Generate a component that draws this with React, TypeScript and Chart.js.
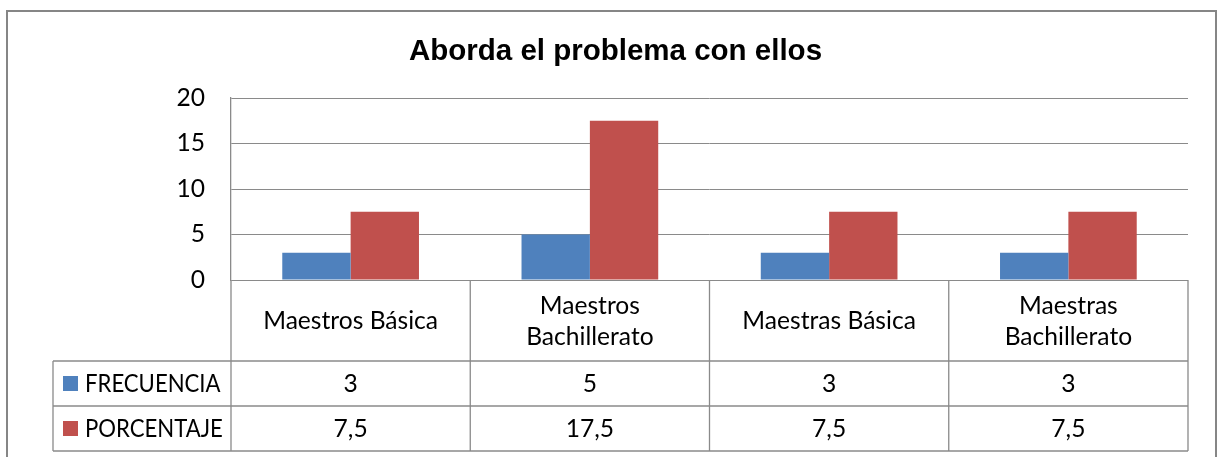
import React, { useEffect, useRef } from 'react';
import { Chart, registerables } from 'chart.js';

Chart.register(...registerables);

const TITLE = 'Aborda el problema con ellos';
const categories = ['Maestros Básica', 'Maestros Bachillerato', 'Maestras Básica', 'Maestras Bachillerato'];
const seriesNames = ['FRECUENCIA', 'PORCENTAJE'];
const frecuencia = [3, 5, 3, 3];
const porcentaje = [7.5, 17.5, 7.5, 7.5];
const seriesColors = ['#4F81BD', '#C0504D'];
const yMin = 0;
const yMax = 20;
const yStep = 5;

const W = 1219;
const H = 457;
const LINE = '#8a8a8a';
const BODY_FONT = '24.6px Lato';
const HEADER_H = 81;
const ROW_H = 45;
const LEGEND_LEFT = 53;
const PAD_LEFT = 43;

const fmt = (v: number) => String(v).replace('.', ',');

function wrapText(ctx: CanvasRenderingContext2D, text: string, maxW: number): string[] {
  const words = text.split(' ');
  const lines: string[] = [];
  let cur = '';
  for (const w of words) {
    const t = cur ? cur + ' ' + w : w;
    if (cur && ctx.measureText(t).width > maxW) {
      lines.push(cur);
      cur = w;
    } else {
      cur = t;
    }
  }
  if (cur) lines.push(cur);
  return lines;
}

const framePlugin = {
  id: 'frame',
  afterDraw(chart: any) {
    const ctx: CanvasRenderingContext2D = chart.ctx;
    ctx.save();
    ctx.strokeStyle = '#868686';
    ctx.lineWidth = 2;
    ctx.beginPath();
    ctx.moveTo(7, H + 5);
    ctx.lineTo(7, 11);
    ctx.lineTo(1216, 11);
    ctx.lineTo(1216, H + 5);
    ctx.stroke();
    ctx.restore();
  },
};

const tablePlugin = {
  id: 'dataTable',
  afterDraw(chart: any) {
    const ctx: CanvasRenderingContext2D = chart.ctx;
    const ca = chart.chartArea;
    const xs = chart.scales.x;
    const n = chart.data.labels.length;
    const cw = (ca.right - ca.left) / n;
    const headerBottom = ca.bottom + HEADER_H;
    const datasets = chart.data.datasets;
    const tableBottom = headerBottom + ROW_H * datasets.length;

    ctx.save();
    ctx.strokeStyle = LINE;
    ctx.lineWidth = 1.3;
    ctx.beginPath();
    for (let r = 0; r <= datasets.length; r++) {
      const y = headerBottom + r * ROW_H;
      ctx.moveTo(LEGEND_LEFT, y);
      ctx.lineTo(ca.right, y);
    }
    for (let i = 0; i <= n; i++) {
      const x = ca.left + i * cw;
      ctx.moveTo(x, ca.bottom);
      ctx.lineTo(x, tableBottom);
    }
    ctx.moveTo(LEGEND_LEFT, headerBottom);
    ctx.lineTo(LEGEND_LEFT, tableBottom);
    ctx.stroke();

    ctx.fillStyle = '#000';
    ctx.font = BODY_FONT;
    ctx.textAlign = 'center';
    ctx.textBaseline = 'middle';
    const lh = 31;
    chart.data.labels.forEach((label: string, i: number) => {
      const cx = xs.getPixelForValue(i);
      const lines = wrapText(ctx, label, cw - 20);
      const cy = ca.bottom + HEADER_H / 2;
      const start = cy - ((lines.length - 1) * lh) / 2;
      lines.forEach((ln, k) => ctx.fillText(ln, cx, start + k * lh + 1));
    });

    datasets.forEach((ds: any, r: number) => {
      const cy = headerBottom + r * ROW_H + ROW_H / 2;
      ctx.fillStyle = ds.backgroundColor;
      ctx.fillRect(63, cy - 7.5, 15, 15);
      ctx.fillStyle = '#000';
      ctx.textAlign = 'left';
      ctx.save();
      ctx.translate(85, cy + 1);
      ctx.scale(0.9, 1);
      ctx.fillText(ds.label, 0, 0);
      ctx.restore();
      ctx.textAlign = 'center';
      ds.data.forEach((v: number, i: number) => {
        ctx.fillText(fmt(v), xs.getPixelForValue(i), cy + 1);
      });
    });
    ctx.restore();
  },
};

export default function App() {
  const ref = useRef<HTMLCanvasElement>(null);

  useEffect(() => {
    if (!ref.current) return;
    const chart = new Chart(ref.current, {
      type: 'bar',
      data: {
        labels: categories,
        datasets: [
          { label: seriesNames[0], data: frecuencia, backgroundColor: seriesColors[0], borderWidth: 0 },
          { label: seriesNames[1], data: porcentaje, backgroundColor: seriesColors[1], borderWidth: 0 },
        ],
      },
      options: {
        animation: false,
        responsive: false,
        devicePixelRatio: 1,
        layout: { padding: { left: PAD_LEFT, right: 31, top: 0, bottom: 177 } },
        datasets: { bar: { categoryPercentage: 0.5714, barPercentage: 1 } },
        plugins: {
          legend: { display: false },
          tooltip: { enabled: false },
          title: {
            display: true,
            text: TITLE,
            color: '#000',
            font: { family: '"Liberation Sans", Arial, sans-serif', size: 29.5, weight: 'bold', lineHeight: 1.2 },
            padding: { top: 34, bottom: 28.6 },
          },
        },
        scales: {
          x: { display: false },
          y: {
            min: yMin,
            max: yMax,
            ticks: { stepSize: yStep, color: '#000', font: { family: 'Lato', size: 24.6 }, padding: 26 },
            grid: { color: LINE, lineWidth: 1, drawTicks: false },
            border: { display: true, color: LINE, width: 1.3 },
            afterFit: (axis: any) => {
              axis.width = 231 - PAD_LEFT;
            },
          },
        },
      },
      plugins: [framePlugin, tablePlugin],
    });
    return () => chart.destroy();
  }, []);

  return (
    <div style={{ position: 'absolute', left: 0, top: 0, width: W, height: H, background: '#fff' }}>
      <canvas ref={ref} width={W} height={H} style={{ display: 'block' }} />
    </div>
  );
}
